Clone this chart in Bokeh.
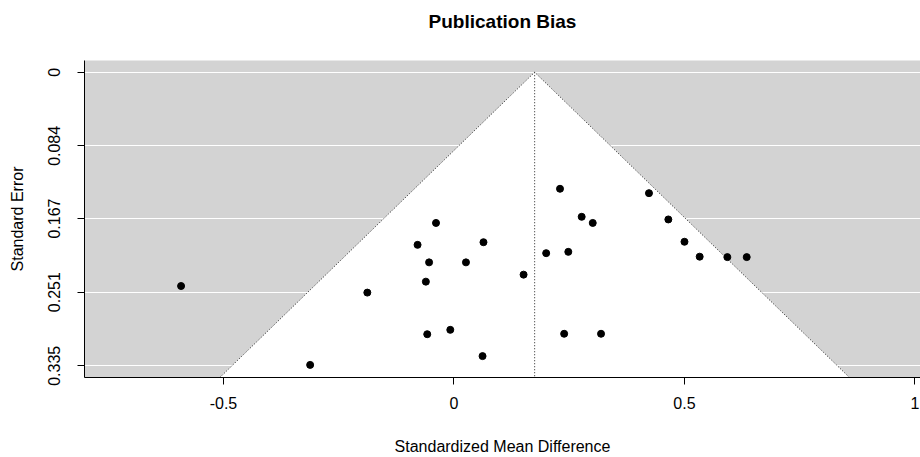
from bokeh.plotting import figure
from bokeh.models import Range1d, FixedTicker, ColumnDataSource, LinearAxis
from bokeh.embed import file_html
from bokeh.resources import INLINE

# Data: standardized mean differences (x) and standard errors (y)
smd = [-0.592, -0.312, -0.188, -0.039, -0.079, 0.064, -0.054, 0.026, -0.061,
       0.151, 0.200, -0.058, -0.008, 0.062, 0.230, 0.277, 0.301, 0.248,
       0.423, 0.465, 0.500, 0.533, 0.593, 0.635, 0.239, 0.319]
se = [0.244, 0.334, 0.2515, 0.172, 0.197, 0.194, 0.217, 0.217, 0.239,
      0.231, 0.2065, 0.299, 0.294, 0.324, 0.133, 0.165, 0.172, 0.205,
      0.138, 0.168, 0.1935, 0.2105, 0.211, 0.211, 0.2985, 0.2985]
estimate = 0.175
z_crit = 1.96

x_ticks = [-0.5, 0, 0.5, 1]
x_tick_labels = ["-0.5", "0", "0.5", "1"]
y_ticks = [0, 0.084, 0.167, 0.251, 0.335]
y_tick_labels = ["0", "0.084", "0.167", "0.251", "0.335"]
title_text = "Publication Bias"

FONT = "Liberation Sans"

y_lo, y_hi = -0.0134, 0.3484
p = figure(width=920, height=457, output_backend="svg", toolbar_location=None,
           x_range=Range1d(-0.8015, 1.012), y_range=Range1d(y_hi, y_lo),
           min_border_left=84, min_border_right=0, min_border_top=60,
           min_border_bottom=78)
p.background_fill_color = "#d3d3d3"
p.border_fill_color = "white"
p.outline_line_color = None

bottom_axis = p.below[0]
left_axis = p.left[0]

p.xgrid.visible = False
p.ygrid.ticker = FixedTicker(ticks=y_ticks)
p.ygrid.grid_line_color = "white"
p.ygrid.grid_line_width = 1.2

for ax, ticks, labels in ((bottom_axis, x_ticks, x_tick_labels), (left_axis, y_ticks, y_tick_labels)):
    ax.ticker = FixedTicker(ticks=ticks)
    ax.major_label_overrides = {t: l for t, l in zip(ticks, labels)}
    ax.minor_tick_line_color = None
    ax.major_tick_in = 0
    ax.major_tick_out = 7
    ax.axis_line_color = "black"
    ax.major_tick_line_color = "black"
    ax.major_label_text_font = FONT
    ax.major_label_text_font_size = "16px"
    ax.major_label_text_color = "black"
    ax.axis_label_text_font = FONT
    ax.axis_label_text_font_size = "16px"
    ax.axis_label_text_font_style = "normal"
    ax.axis_label_text_color = "black"

bottom_axis.axis_label = "Standardized Mean Difference"
left_axis.axis_label = "Standard Error"
left_axis.major_label_orientation = "vertical"
bottom_axis.major_label_standoff = 12
bottom_axis.axis_label_standoff = 26
left_axis.major_label_standoff = 17
left_axis.axis_label_standoff = 20

# title drawn as the label of an otherwise invisible top axis
top_axis = LinearAxis(ticker=FixedTicker(ticks=[]), axis_label=title_text,
                      axis_line_color=None, major_tick_line_color=None,
                      minor_tick_line_color=None, major_label_text_color=None,
                      major_tick_in=0, major_tick_out=0, major_label_standoff=0,
                      axis_label_standoff=29, axis_label_text_font=FONT,
                      axis_label_text_font_size="19px", axis_label_text_font_style="bold",
                      axis_label_text_color="black")
p.add_layout(top_axis, "above")

# funnel region
fx = [estimate - z_crit * y_hi, estimate, estimate + z_crit * y_hi]
fy = [y_hi, 0, y_hi]
p.patch(fx, fy, fill_color="white", line_color=None)
p.line(fx, fy, line_color="#222222", line_dash="1 2", line_width=1)
p.line([estimate, estimate], [0, y_hi], line_color="#222222", line_dash="1 2", line_width=1)

src = ColumnDataSource(dict(x=smd, y=se))
p.scatter("x", "y", source=src, size=7, fill_color="black", line_color="black")

open("out.html", "w").write(file_html(p, INLINE))
